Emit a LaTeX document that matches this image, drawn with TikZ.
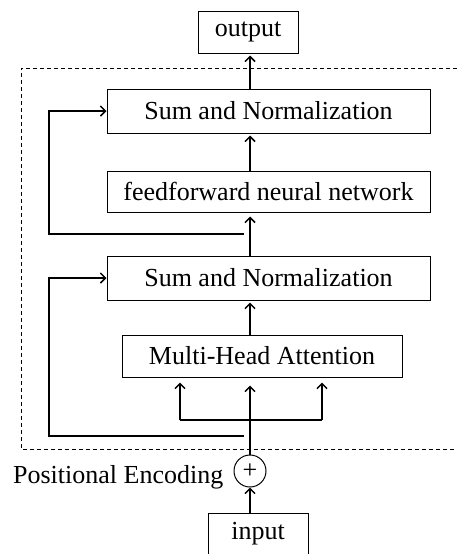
\documentclass[tikz,border=0pt]{standalone}
\usepackage{fontspec}
\setmainfont{Liberation Serif}
\usetikzlibrary{positioning,arrows.meta}

\begin{document}
\begin{tikzpicture}[x=1pt,y=1pt,
	every node/.style={font=\fontsize{26}{31}\selectfont},
	blk/.style={draw,line width=1pt,inner sep=0pt,minimum height=43pt},
	link/.style={line width=1.5pt,-{Straight Barb[length=5pt,width=10pt]}},
	wire/.style={line width=1.5pt}]
\useasboundingbox (0,0) rectangle (457,-554);
\draw[line width=0.8pt,dash pattern=on 4pt off 3pt] (457,-68) -- (21,-68) -- (21,-449) -- (457,-449);

\node[blk,minimum width=100pt,minimum height=42pt](out) at (248,-32){output};
\node[blk,minimum width=323pt,minimum height=44pt](sn1) at (268.5,-111){Sum and Normalization};
\node[blk,minimum width=323pt,minimum height=41pt](ff) at (268.5,-191.5){feedforward neural network};
\node[blk,minimum width=323pt,minimum height=44pt](sn2) at (268.5,-278){Sum and Normalization};
\node[blk,minimum width=280pt,minimum height=42pt](mha) at (262,-356){Multi-Head Attention};
\node[circle,draw,line width=1pt,minimum size=32pt,inner sep=0pt](pe) at (250,-471){+};
\node[left=10pt of pe,yshift=-6pt,inner sep=0pt](pos){Positional Encoding};
\node[blk,minimum width=100pt,minimum height=42pt](in) at (258,-534){input};

\coordinate (b1) at (244,-234);
\coordinate (b2) at (244,-436);
\coordinate (lft) at (49,0);
\coordinate (qk) at (180,-420);
\coordinate (vv) at (322,-420);

\draw[link] (in.north -| pe) -- (pe.south);
\draw[link,shorten >=8pt] (pe.north) -- (pe |- mha.south);
\draw[wire] (qk) -- (vv);
\draw[link,shorten >=5pt] (qk) -- (qk |- mha.south);
\draw[link,shorten >=5pt] (vv) -- (vv |- mha.south);
\draw[link,shorten >=2pt] (mha.north -| pe) -- (sn2.south -| pe);
\draw[link,shorten >=4pt] (sn2.north -| pe) -- (ff.south -| pe);
\draw[link,shorten >=2pt] (ff.north -| pe) -- (sn1.south -| pe);
\draw[link,shorten >=2pt] (sn1.north -| pe) -- (out.south -| pe);
\draw[link] (b2) -| (lft |- sn2.west) -- (sn2.west);
\draw[link] (b1) -| (lft |- sn1.west) -- (sn1.west);
\end{tikzpicture}
\end{document}
